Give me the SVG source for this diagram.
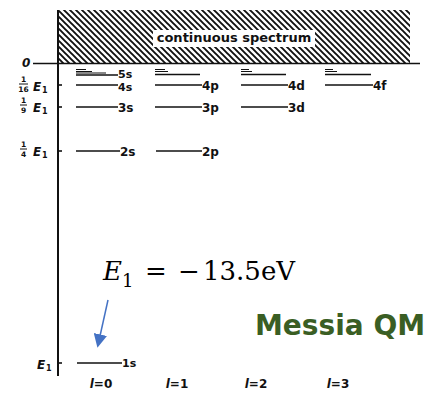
<svg xmlns="http://www.w3.org/2000/svg" width="443" height="398" viewBox="0 0 443 398">
<style>
.lv{stroke:#111;stroke-width:1.6;fill:none}
.sm{stroke:#111;stroke-width:1;fill:none}
.ax{stroke:#111;stroke-width:2;fill:none}
.lb{font-family:"DejaVu Sans",sans-serif;font-weight:bold;font-size:12px;fill:#111}
.el{font-family:"DejaVu Sans",sans-serif;font-weight:bold;font-style:italic;font-size:12px;fill:#111}
.fr{font-family:"DejaVu Sans",sans-serif;font-weight:bold;font-size:7.5px;fill:#111}
.sub{font-family:"DejaVu Sans",sans-serif;font-weight:bold;font-size:8px;fill:#111}
.ml{font-family:"DejaVu Serif",serif;font-size:26px;fill:#000}
</style>
<defs>
<pattern id="hatch" patternUnits="userSpaceOnUse" width="6" height="6">
<path d="M-1,-1 L7,7 M-1,5 L1,7 M5,-1 L7,1" stroke="#111" stroke-width="1.9"/>
</pattern>
<marker id="arr" viewBox="0 0 10 10" refX="8" refY="5" markerWidth="9" markerHeight="9" orient="auto" markerUnits="strokeWidth">
<path d="M0,0 L10,5 L0,10 Z" fill="#4472C4"/>
</marker>
</defs>

<g id="continuum">
<rect x="58" y="10" width="352" height="53" fill="url(#hatch)"/>
<rect x="153" y="30" width="162" height="17" fill="#fff"/>
<text x="234" y="42" text-anchor="middle" class="lb" style="font-size:13px">continuous spectrum</text>
</g>

<g id="axes">
<line x1="58" y1="10" x2="58" y2="376" class="ax"/>
<line x1="33" y1="63.5" x2="420" y2="63.5" class="lv"/>
<line x1="58" y1="85" x2="62" y2="85" class="lv"/>
<line x1="58" y1="107" x2="62" y2="107" class="lv"/>
<line x1="58" y1="151" x2="62" y2="151" class="lv"/>
<line x1="58" y1="363" x2="62" y2="363" class="lv"/>
<text x="22" y="67" class="el">0</text>
<g id="lab16">
<text x="23.5" y="82" text-anchor="middle" class="fr">1</text>
<line x1="19" y1="84" x2="28" y2="84" class="sm"/>
<text x="23.5" y="92" text-anchor="middle" class="fr">16</text>
<text x="33" y="91" class="el">E</text><text x="42" y="93" class="sub">1</text>
</g>
<g id="lab9">
<text x="23.5" y="103" text-anchor="middle" class="fr">1</text>
<line x1="20" y1="105" x2="27" y2="105" class="sm"/>
<text x="23.5" y="113" text-anchor="middle" class="fr">9</text>
<text x="33" y="112" class="el">E</text><text x="42" y="114" class="sub">1</text>
</g>
<g id="lab4">
<text x="23.5" y="147" text-anchor="middle" class="fr">1</text>
<line x1="20" y1="149" x2="27" y2="149" class="sm"/>
<text x="23.5" y="157" text-anchor="middle" class="fr">4</text>
<text x="33" y="156" class="el">E</text><text x="42" y="158" class="sub">1</text>
</g>
<g id="lab1">
<text x="37" y="369" class="el">E</text><text x="46" y="371" class="sub">1</text>
</g>
</g>

<g id="col-s">
<line x1="76" y1="69.5" x2="86" y2="69.5" class="sm"/>
<line x1="76" y1="71.5" x2="92" y2="71.5" class="sm"/>
<line x1="76" y1="73" x2="106" y2="73" class="sm"/>
<line x1="76" y1="75" x2="118" y2="75" class="lv"/>
<text x="118" y="77.5" class="lb" style="font-size:11px">5s</text>
<line x1="76" y1="85" x2="118" y2="85" class="lv"/>
<text x="118" y="90.5" class="lb" style="font-size:11px">4s</text>
<line x1="76" y1="107" x2="118" y2="107" class="lv"/>
<text x="118" y="111.5" class="lb">3s</text>
<line x1="76" y1="151" x2="120" y2="151" class="lv"/>
<text x="120" y="155.5" class="lb">2s</text>
<line x1="77" y1="363" x2="122" y2="363" class="lv"/>
<text x="122" y="367" class="lb" style="font-size:11px">1s</text>
</g>

<g id="col-p">
<line x1="155" y1="69.5" x2="165" y2="69.5" class="sm"/>
<line x1="155" y1="71.5" x2="168" y2="71.5" class="sm"/>
<line x1="155" y1="74.5" x2="200" y2="74.5" class="lv"/>
<line x1="155" y1="85" x2="202" y2="85" class="lv"/>
<text x="202" y="89.5" class="lb">4p</text>
<line x1="155" y1="107" x2="202" y2="107" class="lv"/>
<text x="202" y="111.5" class="lb">3p</text>
<line x1="156" y1="151" x2="202" y2="151" class="lv"/>
<text x="202" y="155.5" class="lb">2p</text>
</g>

<g id="col-d">
<line x1="241" y1="69.5" x2="249" y2="69.5" class="sm"/>
<line x1="241" y1="71.5" x2="252" y2="71.5" class="sm"/>
<line x1="241" y1="74.5" x2="286" y2="74.5" class="lv"/>
<line x1="241" y1="85" x2="288" y2="85" class="lv"/>
<text x="288" y="89.5" class="lb">4d</text>
<line x1="241" y1="107" x2="288" y2="107" class="lv"/>
<text x="288" y="111.5" class="lb">3d</text>
</g>

<g id="col-f">
<line x1="325" y1="69.5" x2="333" y2="69.5" class="sm"/>
<line x1="325" y1="71.5" x2="337" y2="71.5" class="sm"/>
<line x1="325" y1="74.5" x2="371" y2="74.5" class="lv"/>
<line x1="325" y1="85" x2="373" y2="85" class="lv"/>
<text x="373" y="89.5" class="lb">4f</text>
</g>

<g id="l-labels">
<text x="101" y="388" text-anchor="middle" class="lb"><tspan font-style="italic">l</tspan>=0</text>
<text x="177" y="388" text-anchor="middle" class="lb"><tspan font-style="italic">l</tspan>=1</text>
<text x="256" y="388" text-anchor="middle" class="lb"><tspan font-style="italic">l</tspan>=2</text>
<text x="338" y="388" text-anchor="middle" class="lb"><tspan font-style="italic">l</tspan>=3</text>
</g>

<g id="annotation">
<text x="103" y="280" class="ml" font-style="italic">E</text>
<text x="122" y="287" class="ml" style="font-size:18px">1</text>
<text x="145" y="280" class="ml">=</text>
<text x="178" y="280" class="ml">−</text>
<text x="203" y="280" class="ml">13.5eV</text>
</g>

<g id="connectors">
<line x1="108" y1="300" x2="98" y2="345" stroke="#4472C4" stroke-width="1.5" marker-end="url(#arr)"/>
</g>

<g id="brand">
<text x="255" y="335" font-family="DejaVu Sans, Verdana, sans-serif" font-weight="bold" font-size="28" fill="#3A5E24">Messia QM</text>
</g>
</svg>
